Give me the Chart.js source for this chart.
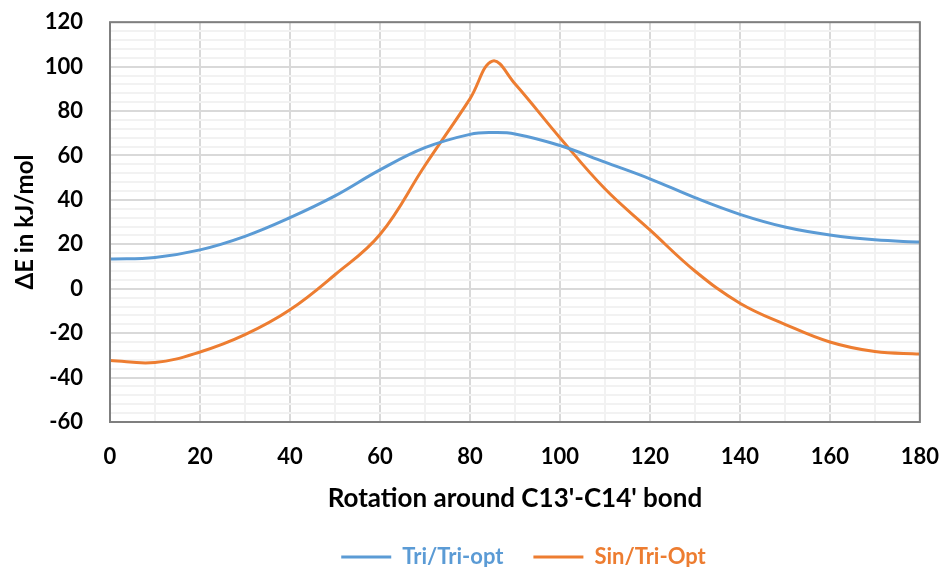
<!DOCTYPE html>
<html><head><meta charset="utf-8">
<script src="https://cdn.jsdelivr.net/npm/chart.js@4.4.0/dist/chart.umd.min.js"></script>
<style>html,body{margin:0;padding:0;background:#fff}#wrap{width:943px;height:567px;position:relative}</style>
</head><body><div id="wrap"><canvas id="c"></canvas></div>
<script>
const angles = [0,10,20,30,40,50,60,70,80,85,90,100,110,120,130,140,150,160,170,180];
const triTriOpt = [13.4,14.1,17.5,23.6,32.0,41.8,53.5,63.5,69.5,70.3,69.7,64.5,57.0,49.5,41.0,33.5,27.8,24.2,22.0,21.0];
const sinTriOpt = [-32.3,-33.2,-28.5,-20.7,-9.5,6.3,24.4,55.5,85.5,102.5,92.3,68.0,45.0,26.5,8.0,-6.5,-16.0,-24.0,-28.3,-29.4];
const xLabels = [0,20,40,60,80,100,120,140,160,180];
const yLabels = [-60,-40,-20,0,20,40,60,80,100,120];
const seriesNames = ['Tri/Tri-opt','Sin/Tri-Opt'];
const seriesColors = ['#5B9BD5','#ED7D31'];
const xTitle = "Rotation around C13'-C14' bond";
const yTitle = 'ΔE in kJ/mol';

const FONT = 'Lato';
const toPts = arr => arr.map((v,i)=>({x:angles[i], y:v}));

const frame = {
  id:'frame',
  afterDraw(chart){
    const {ctx, chartArea:a} = chart;
    ctx.save();
    ctx.strokeStyle = '#7f7f7f';
    ctx.lineWidth = 2;
    ctx.strokeRect(a.left, a.top, a.right-a.left, a.bottom-a.top);
    ctx.restore();
  }
};
const yTitlePlugin = {
  id:'ytitle',
  afterDraw(chart){
    const ctx = chart.ctx, a = chart.chartArea;
    ctx.save();
    ctx.translate(25, (a.top + a.bottom)/2);
    ctx.rotate(-Math.PI/2);
    ctx.font = 'bold 24px ' + FONT;
    ctx.fillStyle = '#000';
    ctx.textAlign = 'center';
    ctx.textBaseline = 'middle';
    ctx.fillText(yTitle, 0, 0);
    ctx.restore();
  }
};
const legendShift = {
  id:'legendShift',
  afterLayout(chart){
    const lg = chart.legend;
    if (lg) { lg.left += 52; lg.right += 52; }
  }
};

const gridColor = c => (c.tick && c.tick.value % 20 === 0) ? '#d9d9d9' : '#f2f2f2';

new Chart(document.getElementById('c'), {
  type:'line',
  data:{
    datasets:[
      {label:seriesNames[0], data:toPts(triTriOpt), borderColor:seriesColors[0], backgroundColor:seriesColors[0], borderWidth:3, pointRadius:0, tension:0.4, fill:false},
      {label:seriesNames[1], data:toPts(sinTriOpt), borderColor:seriesColors[1], backgroundColor:seriesColors[1], borderWidth:3, pointRadius:0, tension:0.4, fill:false}
    ]
  },
  options:{
    responsive:true, maintainAspectRatio:false, animation:false, devicePixelRatio:1,
    layout:{padding:{left:0,right:0,top:0,bottom:-11}},
    plugins:{
      tooltip:{enabled:false},
      legend:{
        position:'bottom',
        labels:{
          font:{family:FONT, size:22, weight:'bold'},
          boxWidth:50, boxHeight:3, padding:30,
          generateLabels(chart){
            return chart.data.datasets.map((d,i)=>({
              text:d.label, fillStyle:d.borderColor, strokeStyle:d.borderColor, lineWidth:0,
              fontColor:d.borderColor, datasetIndex:i, hidden:false
            }));
          }
        }
      }
    },
    scales:{
      x:{
        type:'linear', min:0, max:180,
        afterBuildTicks(s){ s.ticks = []; for(let v=0; v<=180; v+=10) s.ticks.push({value:v}); },
        afterFit(s){ s.height = 94; },
        ticks:{
          autoSkip:false, maxRotation:0, minRotation:0, padding:4, color:'#000',
          font:{family:FONT, size:22, weight:'bold'},
          callback:v => xLabels.includes(v) ? String(v) : ''
        },
        grid:{ drawTicks:true, tickLength:18, tickColor:'rgba(0,0,0,0)', lineWidth:2, color:gridColor },
        border:{display:false},
        title:{display:true, text:xTitle, color:'#000', font:{family:FONT, size:26, weight:'bold'}, padding:{top:12,bottom:2}}
      },
      y:{
        min:-60, max:120,
        afterBuildTicks(s){ s.ticks = []; for(let v=-60; v<=120; v+=4) s.ticks.push({value:v}); },
        afterFit(s){ s.width = 110; },
        ticks:{
          autoSkip:false, padding:9, color:'#000',
          font:{family:FONT, size:22, weight:'bold'},
          callback:v => yLabels.includes(v) ? String(v) : ''
        },
        grid:{ drawTicks:true, tickLength:18, tickColor:'rgba(0,0,0,0)', lineWidth:2, color:gridColor },
        border:{display:false}
      }
    }
  },
  plugins:[frame, yTitlePlugin, legendShift]
});
</script>
</body></html>
